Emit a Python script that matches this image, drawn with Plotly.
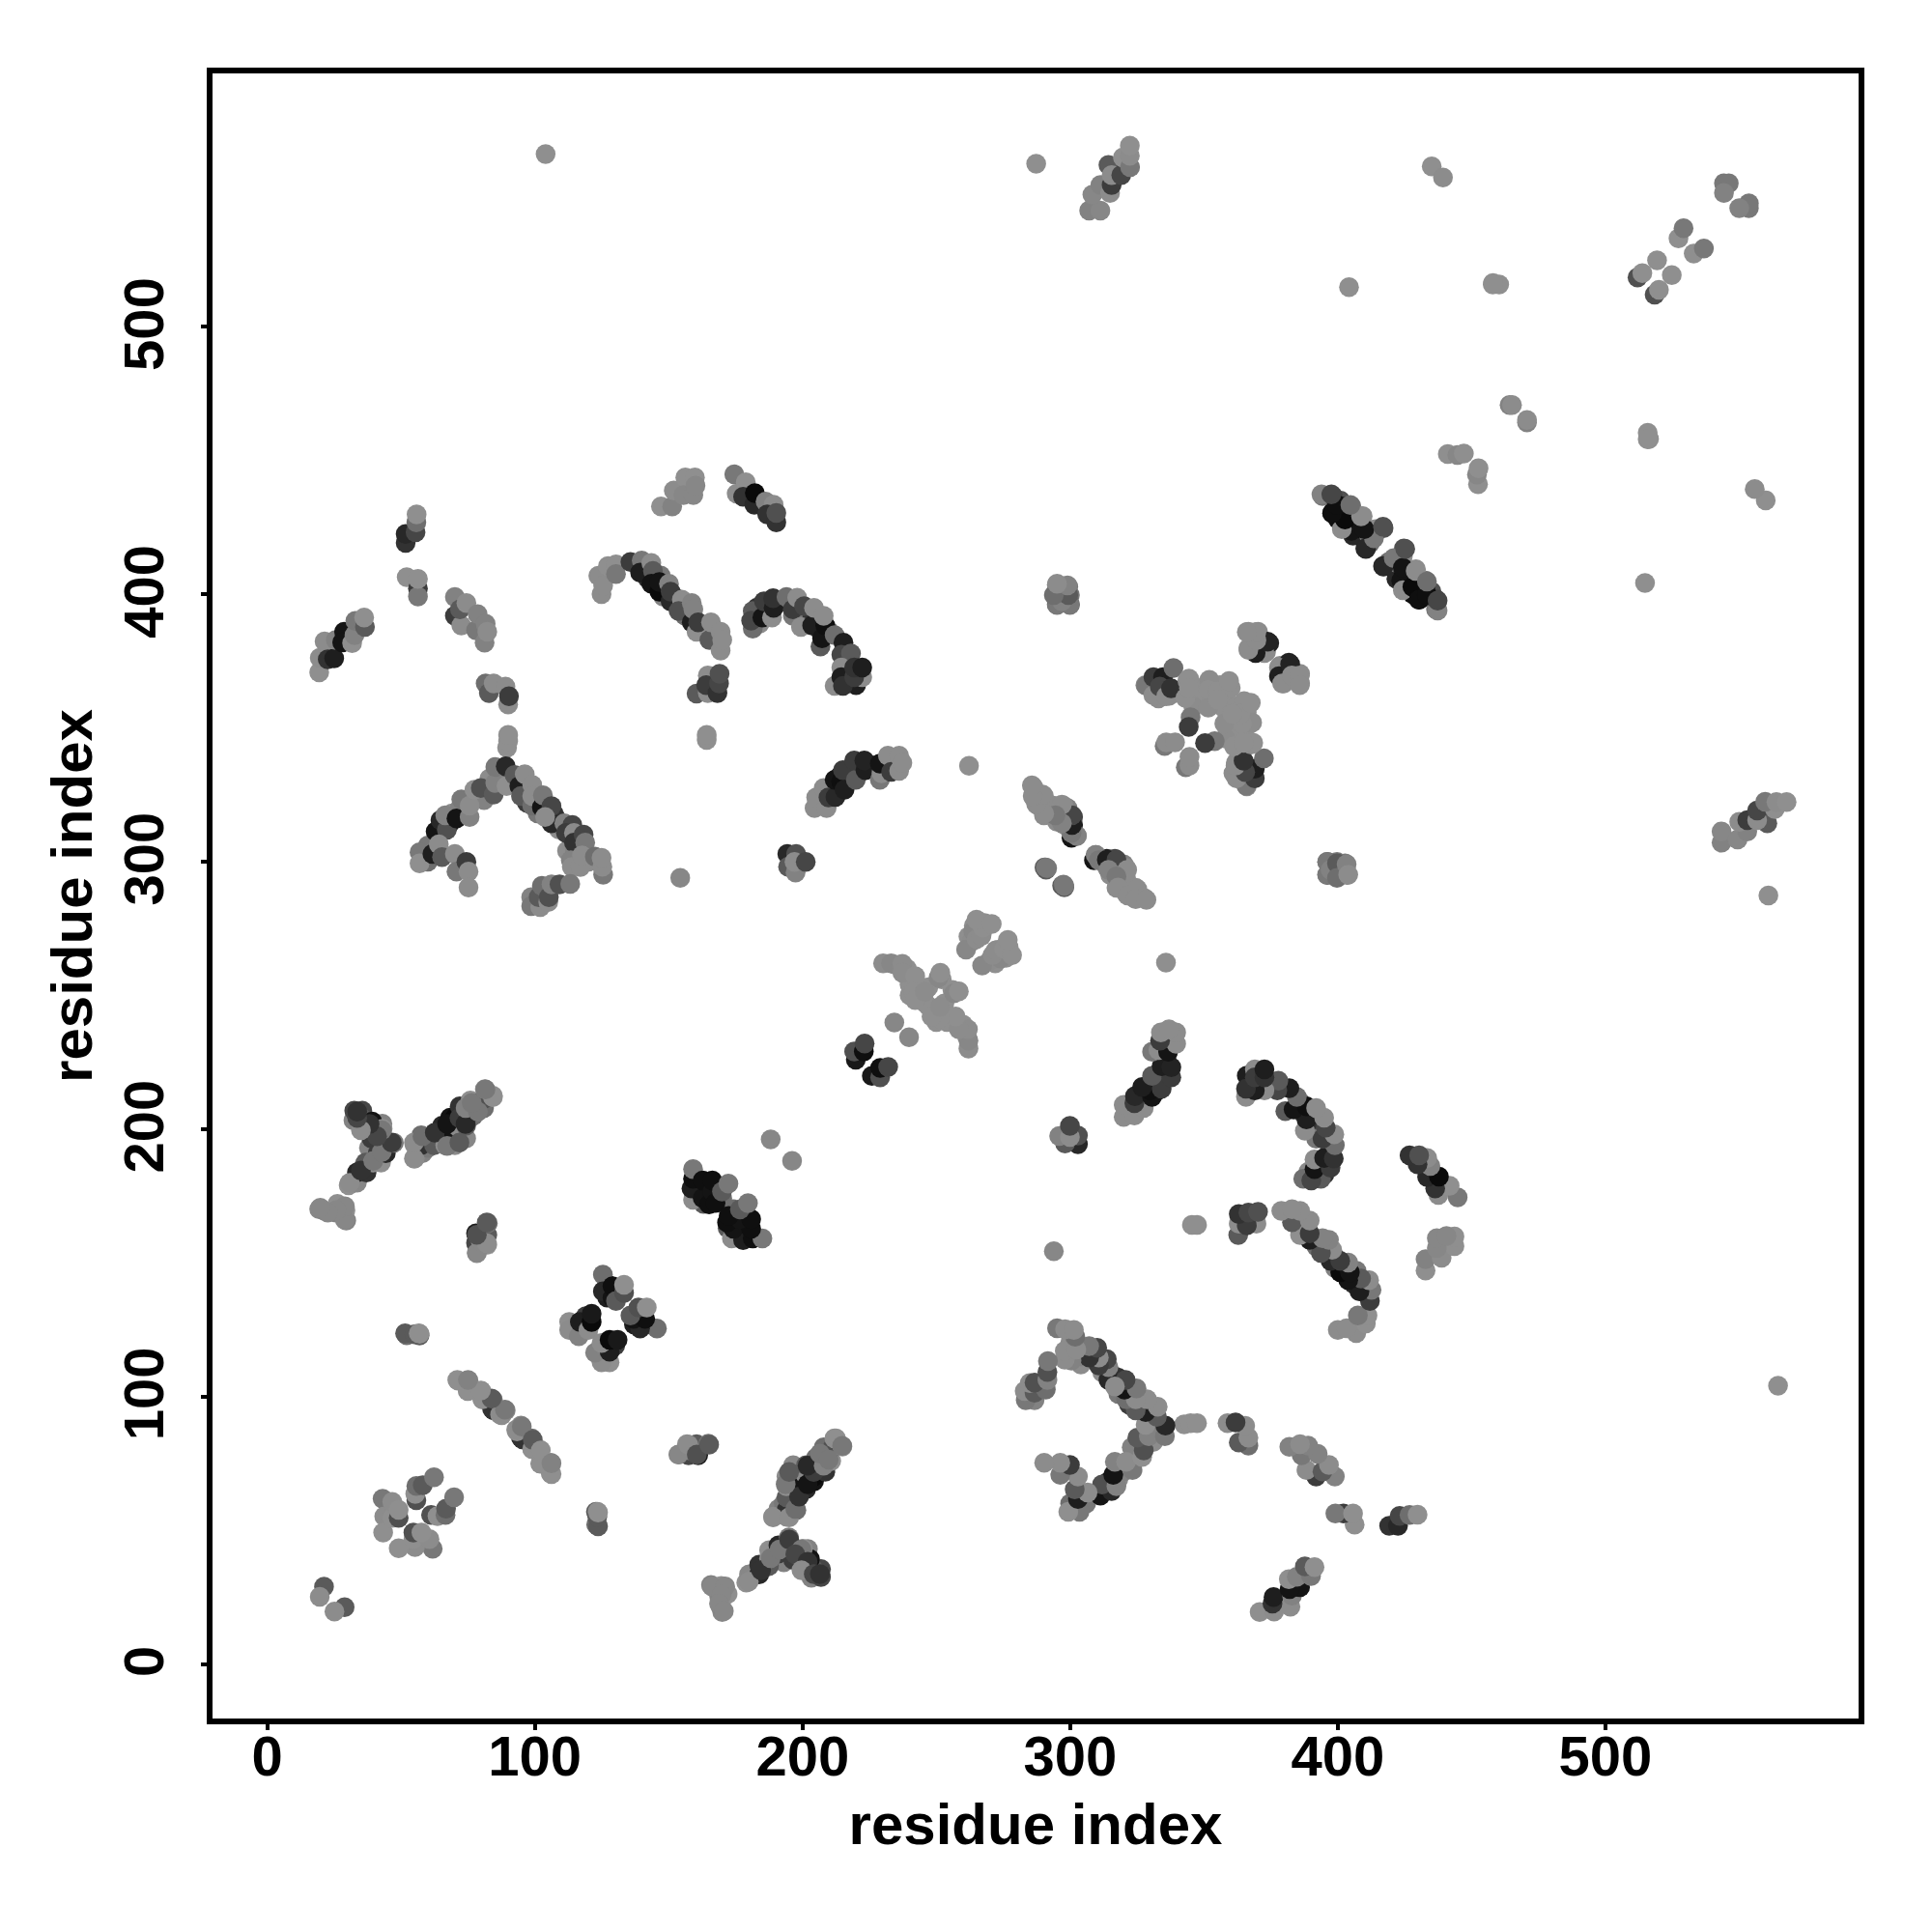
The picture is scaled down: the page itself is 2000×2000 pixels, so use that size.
import plotly.graph_objects as go

under = [(234.5,261.5,135),(239,260,135),(240,254,135),(243,253,135),(240,250,135),(244,249,135),(246,247,135),(247,253,135),(252,256,135),(262,272,135),(264,276,135),(267,273,135),(268,277,135),(263,270,130),
         (343,365,135),(345,367,135),(348,364,135),(347,361,135),(349,359,135),(353,361,135),(356,358.5,135),(358,362,135),(360,365,135),(346,358,130),(337,362,130),(333,361,130),(341,363,130),(356,366,135),(352,368,130),
         (60,300,100),(63,305,60),(60,306,110),(69,318,130),(68,314,30),(72,320,120),(74,323,130),(81,323,120),(83,331,130),(88,332,100),(92,329,70),(96,326,130),(97,322,60),(101,318,110),(108,316,60),(109,312,130),(112,304,130),(115,304,120),(120,300,130),(107,318,50),
         (142,406,50),(148,399,120),(152,399,90),(156,392,100),(163,387,130),(167,384,110),(141,410,130),(147,407,110),
         (183,395,50),(187,393,30),(184,389,130),(192,397,90),(198,392,20),(202,392,50),(206,387,90),(206,390,20),(210,386,110),(217,373,90),(216,369,130),(220,366,30),
         (399,433,40),(403,427,30),(407,426,20),(407,423,120),(412,419,100),(422,408,50),(426,405,15),(428,400,15),(431,403,130),(435,401,80),
         (211,327,130),(214,332,20),(218,334,40),(221,333,80),(226,336,30),(234,337,130),(232,335,110),
         (59,196,130),(64,198,130),(67,199,30),(72,204,15),(73,199,100),(69,201,60),(77,205,100),(72,206,120),
         (288,321,130),(292,321,130),(295,318,130),(295,315,130),(319,292,130),(323,290,130),(320,299,120),(326,287,130),
         (127,142,40),(131,139,30),(127,137,30),(118,125,120),(119,130,60),(114,126,120),
         (161,177,20),(164,178,15),(160,176,40),(168,175,30),(163,172,90),(170,174,100),
         (196,64,70),(199,70,40),(203,69,30),(205,75,90),(191,58,120),(193,60,110),(210,80,120),
         (193,38,120),(186,36,110),(203,35,130),(190,43,120),(202,43,120)]
c_a = [(19.4,370.8,140),(19.6,376.2,130),(21.4,382.3,130),(22.6,375.6,50),(25,376,30),(25.6,382.9,120),(28.7,385.9,20),(28,382,20),(31.7,381.7,140),(32.6,384.7,120),(32.9,390,110),(36.5,387.7,90),(36.2,391.3,140)]
c_b = [(51.7,419.2,50),(51.7,422.5,40),(55.4,423.1,70),(55.7,426.8,100),(55.8,429.8,140)]
c_c = [(52.1,406.3,140),(56.3,402.1,60),(56.3,399.1,110),(56.3,405.7,140)]
c_d = [(70.1,398.9,120),(70.1,391.9,60),(72.5,388.3,130),(72,394.3,90),(74.4,396.7,130),(78,386.5,110),(78.6,392.5,120),(81.2,381.9,120),(81.6,388.9,120),(82.2,385.9,130)]
c_e = [(81.6,366.6,100),(82.8,363,90),(84.6,366.6,130),(89,365.4,130),(90,358.8,130),(90.3,361.8,60)]
c_f = [(89.6,342.6,140),(90,345,140),(90,347.4,140)]
c_g = [(56.9,303.5,110),(56.9,299.3,140),(61.7,302.9,30),(62.9,311.3,20),(64.7,315.5,40),(67.1,311.9,80),(64.1,306.5,130),(66.5,317.3,120),(70.7,316.1,20),(72.5,323.3,110),(75.6,316.7,120),(75.6,320.9,130),(77.4,326.9,140),(79.8,327.5,80),(84.6,325.1,90),(85.2,329.4,120),(85.2,335.4,110),(89.4,328.2,140),(89.1,335.6,40),
       (65.3,301.7,90),(70.1,302.9,130),(70.7,296.3,110),(74.4,299.9,60),(75.2,296.3,130),(75.2,290.3,130),
       (92.4,332.4,90),(94.2,328.2,30),(94.8,324.5,90),(96.2,332.7,130),(99,328.7,130),(99,320.9,100),(99,324.5,130),(102.6,320.3,20),(103,324.8,110),(106.2,314.3,40),(106.2,320.7,70),(103.8,316.7,130),(111,314.3,120),(114,313.7,70),(111.6,310.7,60),(114.6,310.7,130),(114.6,307.1,50),(118.2,310.1,70),(118.8,307.1,110),(113.4,300.5,120),(113.8,298,130),(117,298,130),(117.6,302.3,130),(122.4,301.9,100),(125.5,295.1,110),(125.2,298.1,130),(124.9,301.4,130)]
c_h = [(98.6,286.7,120),(98.6,283.4,110),(102,283,130),(101.4,286.7,90),(102.6,290.9,100),(105,284.9,130),(105.2,286.7,80),(106.2,291.5,120),(109.2,291.5,80),(113.2,291.7,110)]
c_i = [(147.1,432.8,140),(151.3,432.8,120),(151.9,438.8,130),(156.2,443.6,140),(155.5,437,125),(159.2,437,125),(159.8,443.6,140),(160,440.6,125)]
c_j = [(174.5,444.8,110),(175.4,437.6,130),(178.8,441.8,140),(177.8,436.4,50),(182,433.4,40),(182.2,437.8,10),(186.2,434.6,120),(189.2,433.4,130),(186.8,429.8,50),(190.2,426.8,50),(190.2,430.4,80)]
c_k = [(124.9,400,130),(123.7,406.9,130),(125.5,403.3,130),(127.3,410.5,140),(130.3,411.1,140),(130.3,407.5,110),
       (135.7,412,60),(139.9,412.6,110),(139.3,408.1,30),(143.5,411.7,130),(144.1,408.7,90),(143.5,403.9,20),(146.5,400.9,10),(146.5,404.5,20),(150.1,403.9,120),(150.7,397.3,40),(150.7,400.9,60),(154.9,397.9,130),(153.7,393.7,80),(158.6,396.7,120),(158.6,389.5,30),(159.2,394.3,120),(160.4,385.9,140),(161,389.5,60),(165.2,382.9,90),(165.8,389.5,130),(169.4,378.9,130),(169.4,385.9,130),(170,382.9,130)]
c_m = [(160.4,362.8,90),(164.6,363,130),(164.6,369.6,130),(164,366,60),(168.2,363,50),(168.8,366.6,70),(169,370.2,80)]
c_m2 = [(164.2,345.5,135),(164.2,347.4,140)]
c_n = [(181.4,387.1,100),(181.4,393.7,90),(180.8,390.1,70),(185,391.3,20),(185.6,397.3,60),(188.6,391.3,130),(189.2,394.9,30),(189,398.5,50),
       (194,398.9,100),(196.4,391.9,110),(196.4,394.3,60),(198,398.7,130),(199.4,387.7,130),(200.6,395.5,70),(203.6,388.3,30),(204.3,394.9,130),(206.7,380.4,90),(207.3,383.5,20),(208.5,388.3,15),(207.9,391.9,130),(212,384.7,100),(215.3,381.9,30),(214.5,377.4,70),(218.1,377.8,90),(212,365.7,130),(214.5,372.6,130),(214.5,369,30),(215.1,365.7,50),(222.3,369,130),(219.3,369,60),(219.3,372.6,50),(222.3,372.6,30)]
c_o = [(204.5,320,130),(205.1,324,130),(209,320,130),(207.9,327.5,130),(209.7,324,60),(212.3,324.2,40),(212,330.6,20),(214.5,329.8,15),(215.7,326.9,30),(215.1,334.2,60),(219.9,330.6,90),(219.3,337.8,60),(223.5,334.2,30),(223.1,337.8,35),(228.9,330.6,110),(229.5,333,130),(228.9,336.6,20),(231.9,339.6,130),(233.1,333.6,60),(236.1,333.9,130),(236.1,339.6,130),(237.3,336.9,130)]
c_single = [(262.2,335.8,140),(154.3,293.9,125),(104,564.5,135),(287.3,560.9,135),(404.2,514.8,135),(188.1,196.1,125),(234.3,239.8,125)]
c_p = [(194.3,302.9,40),(194.6,298.1,90),(197.4,295.9,120),(197.6,302.9,80),(197,299.9,130),(201.2,299.9,70)]
c_q = [(295,403.5,120),(294.4,399.7,90),(295,396.1,90),(297,399,100),(299.3,402.7,110),(299.9,399.7,110),(299.9,396.1,90)]
c_r = [(394.3,436.7,110),(398.1,436.7,70),(397.9,430.4,20),(401.5,432.8,20),(400.9,429.2,10),(405.1,432.8,110),(402.7,424.9,130),(405.1,428.6,15),(405.7,421.9,40),(409.3,424.3,15),(409.3,429.2,130),(410.5,416.9,35),(411.7,421.9,110),(414.1,424.3,130),(417.1,424.7,80),(417.1,410.3,40),(420.9,413.5,110),(423.7,405.1,20),(424.3,401.5,130),(424.3,409.9,20),(425.2,416.9,80),(427.9,402.7,10),(429.1,408.7,130),(430.3,397.9,15),(433.3,399.7,15),(433.3,404.7,100),(437.3,393.9,120),(437.3,397.6,70)]
c_s = [(366.6,385.9,130),(370.2,385.9,130),(366.6,379.8,130),(370.2,378.6,30),(373.2,378.4,130),(374.4,381.7,35)]
c_t = [(378,372.6,130),(378,369.3,30),(379.2,366.6,130),(382.2,373.8,35),(382.8,369.6,130),(385.8,369.6,130),(385.8,366,130)]
c_u = [(328.1,366,130),(331.1,363,125),(334.8,362.4,130),(328.4,365.8,110),(331.1,369,60),(331.1,362.2,130),(334.7,369,30),(333.5,365.4,70),(335.9,361.8,130),(337.7,364.8,50),(338.6,372.4,100),(343.8,367.6,130),(343.1,361.2,135),(345,364.8,135),(351.6,364.2,135),(351.6,357.6,130),(355.2,363.6,135),(355.2,360.6,135),(359.4,367.5,135),(344.4,368.4,135),(344.4,364.8,135),
       (345,354,110),(344.3,350.4,60),(335.3,343.2,110),(335.9,344.6,130),(339.2,344.6,130)]
c_v = [(286.3,327.8,130),(286.4,323.9,130),(290.2,324.5,130),(290.2,317.3,130),(293.8,320.9,130),(297.5,320.9,130),(298,313.7,130),(301.1,313.7,30),(301.1,316.7,70),(300.5,308.9,20),(302.5,309.5,110),
       (309.7,302.5,120),(310.7,300.5,110),(313.7,300.7,30),(317.3,300.7,70),(314.3,296.9,120),(321.3,296.9,130),(317.3,294.5,110),(317.9,290.3,130),(321.5,287.3,130),(325.1,289.7,130),(324.5,286,130),(328.5,285.7,130)]
c_w = [(291,297,90),(291.4,297.5,110),(297.8,290.4,90),(297.8,290.9,110)]
c_x = [(396,299.9,110),(396,295.1,110),(397.3,296.9,120),(399.7,299.3,90),(399.7,293.9,100),(403.3,299,120),(403.9,295.1,130)]
c_top = [(435.1,559.9,135),(439.3,555.8,130),(457.9,515.8,135),(460.3,515.8,135),(464.2,470.7,120),(465.1,470.7,130),(441.1,452.4,135),(444.7,452,125),(447.1,452.6,135),(516.3,458,135)]
c_top2 = [(512,518.4,80),(513.8,520,135),(519.3,524.8,135),(527.3,533,135),(529.2,536.8,110),(544.3,553.6,110),(546.1,553.6,110),(544.3,550,120)]
c_y = [(230.1,262,130),(233.1,262,125),(237.3,261.8,130),(237.3,258.4,130),(242.1,257.2,135),(241.5,251.2,135),(242.1,248.2,135),(245.7,251.4,130),(250.8,256.6,125),(251.5,258.4,135),(261.1,267.1,125),(263.8,274,125),(265,271,130),(266.8,272.2,130),(267.4,275.3,135),(265,278.3,135),(270.7,276.7,135)]
c_y2 = [(219.9,225.9,25),(219.3,229,80),(222.9,229,15),(223.2,232,70)]
c_z = [(307.1,543.4,120),(311.3,543.4,125),(308.3,549.4,125),(311.3,553,120),(314.9,550,130),(314.3,560.5,90),(315.5,553,60),(315.5,556.7,130),(319.1,556.7,70),(319.7,563.3,135),(322.4,559.7,110),(322.3,563.9,130),(322.3,567.7,135)]
c_aa = [(19.4,170,125),(21.4,169.4,120),(25.6,168.8,120),(26.2,172,135),(29.5,165.8,120),(29.2,169.6,135)]
c_ab = [(30.4,179,135),(33.5,180,125),(33.5,183.8,40),(37.1,183.8,50),(36.7,187.5,90),(39.5,187.5,135),(42.5,187.5,135),(41.3,191,60),(44.3,191,40),(44.3,194.9,100),(47.3,194.9,110),
        (32.2,203.3,120),(32.5,206.9,70),(35.5,206.9,70),(35.9,203.7,90),(37.1,199.5,50),(39.2,202.8,20),(38.9,196.5,60),(43.1,200.1,135)]
c_ac = [(55.1,189,130),(55.1,194,130),(57.5,197.7,100),(57.5,194,50),(61.7,197.7,20),(62.3,194,90),(65.3,201.3,40),(66.5,194,135),(70.1,194,130),(69.5,197,20),(68.3,204.3,20),(70.1,204.3,10),(71.9,208.5,50),(71.3,200.7,130),(74.3,196.5,125),(74.3,201.3,90),(76.1,207.9,130),(75.9,210.7,135),(81,207.9,100),(81,211.3,80),(81.3,214.9,135),(84.3,211.9,135)]
c_ad = [(78.3,153.8,135),(78,157.4,70),(78,161,30),(82.2,156.8,135),(82.2,160.4,90),(82.4,164.8,105)]
c_ae = [(52.1,122.9,100),(56.9,122.8,90),(56.9,123.4,135)]
c_af = [(125.4,145.6,100),(125.4,139.3,40),(129,136.9,20),(129,141.2,15),(130.3,135.7,90),(133.3,138.7,80),(133.3,141.8,135),
        (112.8,127.9,135),(112.8,124.9,130),(116.4,122.5,120),(116.8,127.9,30),(120,124.9,130),(121.2,127.9,10),(121.2,130.9,25)]
c_ag = [(159.1,173.6,130),(158.5,177.8,30),(159.1,181.4,15),(159.1,185,110),(162.7,174.2,20),(162.7,180.8,15),(165.1,171.8,15),(166.3,176.6,20),(166.3,180.8,15),(167.5,172.4,15),(169.9,176.6,90),(172.3,179.6,110)]
c_ah = [(71.3,105.9,135),(74.9,102,130),(75.2,105.9,125),(80,102,135),(80.4,99,135),(84.3,98.8,100),(84.6,94.8,40),(87,94.8,50),(87.6,93,130),(89.1,94.8,125),(95.4,84,50),(93.3,87,130),(95.1,88.8,110),(99,80.4,135),(99.2,83.8,90),(102.2,75,135),(102.2,79.8,135),(106.2,71,135),(106.2,75,120)]
c_ai = [(43.1,61.8,110),(43.7,55.2,130),(43.3,49.1,135),(46.7,54.6,135),(46.7,60.6,130),(49.1,54.6,80),(49.1,57.6,135),(55.7,61.2,80),(55.3,63.6,135),(55.7,66.6,100),(58.1,66.8,90),(62.3,69.8,110)]
c_aj = [(21.2,28.9,90),(19.6,25.1,130),(123.6,51.5,90),(123.3,55,90),(123.6,56.6,135)]
c_ak = [(153.6,78.3,125),(158.2,79.7,125),(157.3,82,130),(160.5,78.3,80),(165.1,82,90)]
c_al = [(189,54.8,130),(195,54.8,130),(197.3,58,100),(198.7,62.6,50),(193.7,67.2,110),(195,71.8,90),(201.9,67.2,20),(204.2,71.8,60),(201.9,74.1,40),(207.9,74.1,120),(206.5,78.7,110),(209.8,76.4,110),(212.5,84.3,135),(214.8,81.5,110)]
c_am = [(179.9,30.8,130),(184.5,35,50),(188.1,39.6,110),(191.4,42.8,110),(195,46.5,60),(199.6,42.8,110),(197.3,41,70),(201.9,38.2,50),(199.6,35,130),(204.2,33.6,70),(206.5,33.6,50)]
c_an = [(166.1,29,125),(171.1,29,125),(169.7,25.8,125),(168.8,22.6,125),(170.6,19.8,125)]

clusters = [under,c_a,c_b,c_c,c_d,c_e,c_f,c_g,c_h,c_i,c_j,c_k,c_m,c_m2,c_n,c_o,c_single,c_p,c_q,c_r,c_s,c_t,c_u,c_v,c_w,c_x,c_top,c_top2,c_y,c_y2,c_z,c_aa,c_ab,c_ac,c_ad,c_ae,c_af,c_ag,c_ah,c_ai,c_aj,c_ak,c_al,c_am,c_an]

x_ticks = [0, 100, 200, 300, 400, 500]
axis_title = "residue index"
FONT = "Liberation Sans"

xs, ys, cols = [], [], []
for cl in clusters:
    for i, j, g in cl:
        xs += [i, j]
        ys += [j, i]
        t = g if g < 100 else min(143, g + 10)
        cols += [f"rgb({t},{t},{t})"] * 2

fig = go.Figure(go.Scatter(x=xs, y=ys, mode="markers", hoverinfo="skip",
                           marker=dict(size=20.5, opacity=1, color=cols, line=dict(width=0))))

axis = dict(ticks="outside", ticklen=6, tickwidth=4, tickvals=x_ticks,
            tickcolor="black", showline=True, linecolor="black", linewidth=6, mirror=True,
            showgrid=False, zeroline=False, tickfont=dict(family=FONT, size=58, color="black", weight=700),
            title=dict(text=axis_title, font=dict(family=FONT, size=60, color="black", weight=700)))
fig.update_layout(width=2000, height=2000, autosize=False, plot_bgcolor="white", paper_bgcolor="white",
                  showlegend=False, margin=dict(l=220, r=76, t=75.7, b=220.5))
fig.update_xaxes(**axis)
fig.update_yaxes(**axis)
fig.update_xaxes(range=[-20.46, 594.6], title_standoff=20, ticklabelstandoff=-23)
fig.update_yaxes(range=[-20.4, 594.7], tickangle=-90, title_standoff=3, ticklabelstandoff=16, ticklabelshift=6)
fig.write_html("out.html", post_script="document.body.style.margin='0';", config={"displayModeBar": False})
